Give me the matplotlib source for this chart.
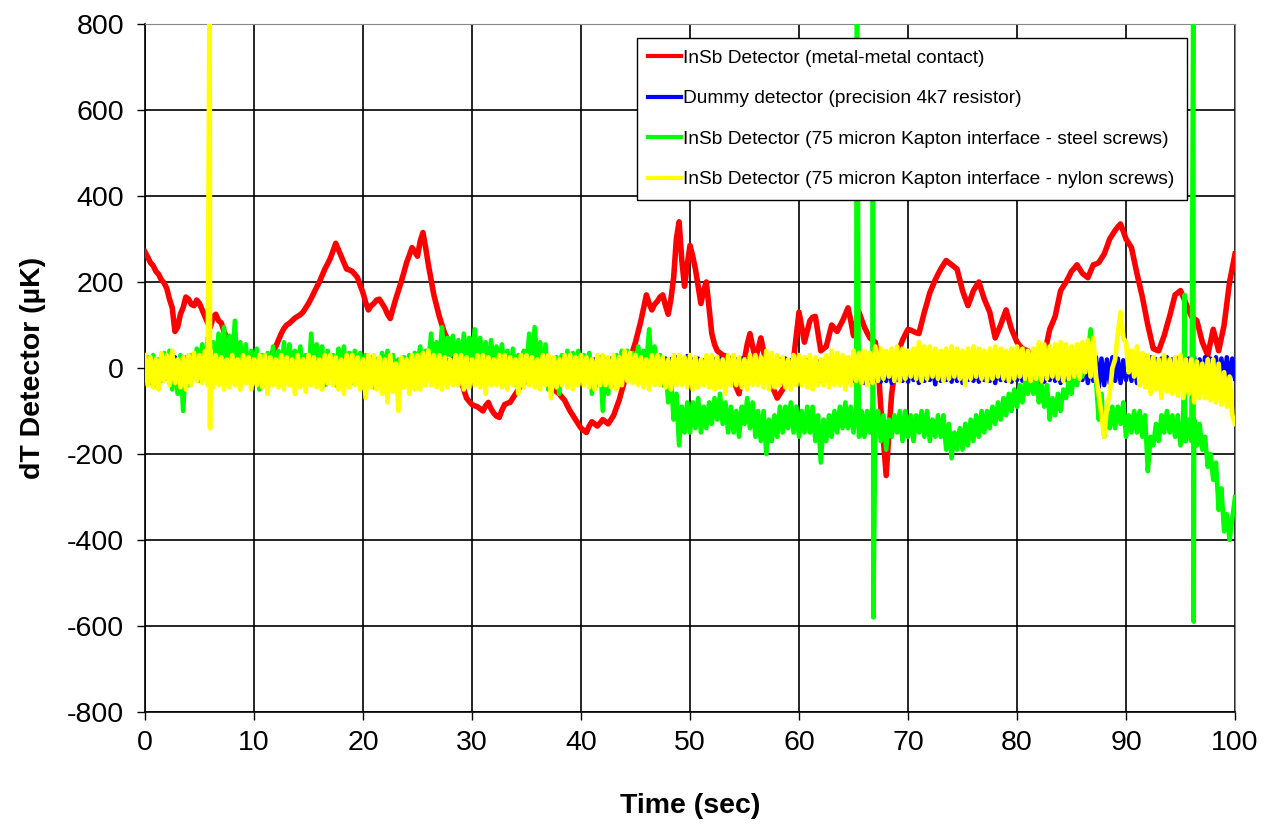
import numpy as np
import matplotlib
matplotlib.use("Agg")
import matplotlib.pyplot as plt

plt.rcParams['font.family'] = ['Liberation Sans', 'DejaVu Sans']

# ---------------- data (0.25 s sampling, 0..100 s) ----------------
sample_step = 0.25

red_vals = [
    270, 258, 245, 238, 225, 218, 205, 198, 185, 160, 140, 85, 95, 125, 140, 165, 160, 148, 145, 158,
    150, 135, 120, 105, 95, 118, 125, 110, 105, 85, 70, 60, 55, 42, 35, 28, 25, 18, 15, 12,
    10, 7, 5, 8, 10, 18, 25, 38, 50, 65, 80, 92, 100, 104, 110, 116, 120, 124, 130, 140,
    150, 162, 175, 188, 200, 215, 230, 242, 255, 272, 290, 275, 260, 245, 230, 228, 225, 218, 210, 192,
    175, 152, 135, 145, 150, 158, 160, 150, 140, 125, 115, 138, 160, 180, 200, 222, 245, 262, 280, 270,
    260, 295, 315, 280, 240, 205, 170, 145, 120, 100, 80, 68, 55, 38, 20, -5, -30, -50, -70, -78,
    -85, -88, -90, -95, -100, -88, -80, -95, -105, -112, -115, -98, -85, -82, -80, -70, -60, -50, -40, -35,
    -30, -25, -20, -18, -15, -18, -20, -28, -35, -42, -50, -55, -60, -68, -75, -88, -100, -110, -120, -130,
    -140, -145, -150, -135, -125, -130, -135, -128, -120, -125, -130, -120, -110, -92, -75, -52, -30, -5, 20, 40,
    60, 85, 110, 140, 170, 150, 135, 148, 155, 165, 170, 145, 125, 160, 210, 300, 340, 250, 190, 240,
    285, 260, 230, 190, 150, 180, 200, 140, 80, 55, 40, 35, 30, 28, 25, 0, -30, -45, -60, -20,
    20, 55, 80, 50, 20, 45, 70, 40, 10, -15, -40, -55, -70, -60, -50, -35, -20, 0, 20, 75,
    130, 95, 60, 85, 110, 118, 120, 80, 40, 45, 50, 75, 100, 92, 85, 98, 110, 125, 140, 110,
    75, 105, 130, 112, 95, 82, 70, 65, 60, 10, -90, -170, -250, -150, -60, -15, 30, 48, 65, 78,
    90, 88, 85, 82, 80, 105, 130, 152, 175, 190, 205, 218, 230, 240, 250, 245, 240, 235, 230, 205,
    180, 162, 145, 162, 180, 190, 200, 180, 160, 145, 130, 100, 70, 85, 100, 118, 135, 112, 90, 75,
    60, 52, 45, 42, 40, 0, -40, -35, -30, 0, 30, 60, 90, 105, 120, 150, 180, 190, 200, 212,
    225, 232, 240, 230, 220, 215, 210, 225, 240, 242, 245, 255, 265, 282, 300, 310, 320, 328, 335, 318,
    300, 290, 280, 250, 220, 192, 165, 132, 100, 72, 45, 42, 40, 58, 75, 98, 120, 145, 170, 175,
    180, 165, 150, 135, 120, 115, 110, 85, 60, 45, 30, 60, 90, 65, 40, 70, 100, 150, 200, 232,
    265]

blue_vals = [
    0, 18, -15, 20, -18, 15, -20, 22, -15, 18, -20, 25, -18, 15, -22, 20, -15, 18, -20, 22,
    -18, 20, -15, 18, -22, 15, -20, 22, -18, 20, -15, 18, -20, 25, -18, 15, -22, 18, -15, 20,
    -20, 22, -18, 15, -20, 18, -22, 20, -15, 18, -20, 22, -18, 15, -20, 20, -15, 22, -18, 18,
    -22, 20, -15, 18, -20, 22, -18, 15, -20, 18, -15, 22, -20, 18, -22, 15, -18, 20, -15, 22,
    -18, 18, -20, 22, -15, 20, -22, 18, -18, 15, -20, 22, -15, 18, -20, 20, -18, 15, -22, 18,
    -15, 20, -18, 22, -20, 18, -15, 15, -22, 20, -18, 18, -20, 22, -15, 20, -18, 18, -22, 15,
    -20, 22, -15, 18, -18, 20, -22, 15, -20, 18, -15, 22, -18, 20, -20, 15, -22, 18, -15, 20,
    -18, 22, -20, 18, -15, 20, -22, 15, -18, 18, -20, 22, -15, 20, -18, 15, -22, 18, -20, 20,
    -15, 22, -18, 18, -20, 20, -22, 15, -18, 18, -15, 22, -20, 20, -18, 15, -22, 18, -15, 20,
    -20, 22, -18, 18, -15, 20, -22, 15, -18, 18, -20, 22, -15, 20, -18, 25, -22, 18, -20, 28,
    -18, 20, -15, 22, -20, 18, -22, 15, -18, 20, -15, 22, -20, 18, -22, 15, -18, 20, -15, 22,
    -20, 18, -22, 15, -18, 20, -15, 22, -20, 18, -22, 15, -18, 20, -15, 22, -25, 18, -22, 15,
    -25, 15, -22, 18, -28, 12, -25, 15, -30, 12, -25, 15, -28, 12, -25, 15, -30, 10, -28, 12,
    -30, 10, -28, 12, -35, 10, -30, 12, -28, 10, -32, 12, -30, 10, -35, 12, -28, 10, -30, 12,
    -32, 10, -28, 12, -35, 10, -30, 12, -28, 10, -38, 12, -30, 10, -28, 12, -32, 10, -30, 12,
    -35, 10, -28, 12, -30, 10, -32, 12, -28, 10, -30, 12, -35, 10, -28, 12, -30, 10, -32, 12,
    -28, 10, -30, 12, -35, 10, -28, 12, -30, 10, -32, 12, -28, 10, -30, 12, -35, 10, -28, 12,
    -30, 10, -32, 12, -28, 15, -35, 20, -30, 25, -45, 22, -40, 20, -35, 25, -30, 22, -35, 18,
    -28, 22, -30, 25, -35, 20, -28, 22, -30, 25, -32, 20, -28, 22, -35, 25, -30, 20, -28, 22,
    -30, 25, -35, 22, -28, 25, -30, 20, -35, 25, -28, 22, -30, 25, -35, 22, -30, 25, -28, 22,
    -25]

green_vals = [
    -20, 25, -35, 30, -40, 20, -30, 35, -25, 40, -50, 15, -60, 30, -100, 25, -40, 30, -20, 45,
    -30, 55, -25, 70, -30, 60, -10, 80, 0, 95, -10, 75, 10, 110, -20, 60, -15, 55, -30, 40,
    -20, 45, -50, 30, -40, 35, -15, 50, -25, 40, -20, 60, -30, 55, 0, 40, -20, 50, -35, 30,
    -30, 80, -10, 55, 10, 50, -40, 40, -20, 30, -40, 45, -10, 50, -30, 35, -35, 40, -20, 35,
    -20, 30, -40, 25, -45, 20, -30, 35, -10, 40, -30, 30, -40, 20, -25, 25, -10, 30, -20, 35,
    0, 50, -10, 40, 10, 80, -5, 60, 20, 95, 10, 70, 30, 75, 0, 65, -10, 80, 10, 70,
    20, 90, 0, 70, 10, 60, -10, 65, 0, 50, -10, 55, -20, 40, -30, 45, -40, 30, -30, 40,
    0, 80, -10, 95, 10, 60, -20, 55, -50, 20, -40, 25, -60, 30, -30, 40, -20, 35, -10, 40,
    -30, 30, -20, 35, -60, 10, -40, 25, -100, 20, -60, 15, -40, 30, -20, 40, 0, 40, -20, 35,
    -10, 50, -5, 40, 10, 90, -10, 50, 0, 30, -40, 10, -80, -20, -120, -60, -180, -90, -150, -80,
    -150, -80, -140, -70, -150, -90, -140, -80, -130, -70, -120, -60, -130, -80, -150, -90, -150, -100, -160, -90,
    -130, -70, -140, -80, -160, -100, -170, -100, -200, -120, -170, -110, -160, -90, -150, -90, -140, -80, -150, -90,
    -160, -100, -150, -90, -150, -90, -170, -110, -220, -120, -170, -110, -160, -100, -150, -90, -140, -80, -140, -90,
    -150, -100, -160, -100, -160, -100, -150, -90, -140, -100, -170, -110, -190, -120, -160, -110, -150, -100, -170, -100,
    -160, -110, -170, -110, -150, -100, -160, -100, -170, -120, -160, -110, -160, -110, -190, -130, -210, -150, -190, -140,
    -190, -130, -180, -120, -170, -110, -160, -100, -150, -100, -140, -90, -130, -80, -120, -70, -110, -60, -100, -50,
    -90, -40, -80, -30, -60, -20, -60, -10, -80, -40, -90, -40, -120, -70, -110, -60, -100, -50, -70, -30,
    -60, -10, -40, 0, -20, 40, 30, 90, 10, -30, -120, -60, -160, -100, -140, -90, -140, -90, -130, -80,
    -160, -110, -150, -100, -150, -100, -160, -110, -240, -160, -180, -130, -170, -110, -150, -100, -150, -110, -160, -110,
    -180, -120, -170, -120, -170, -120, -180, -130, -190, -160, -230, -200, -260, -220, -330, -280, -380, -340, -400, -350,
    -300]

yellow_vals = [
    30, -40, 25, -45, 20, -50, 35, -30, 30, -40, 40, -35, 20, -45, 25, -50, 30, -40, 35, -30,
    30, -35, 40, -40, 40, -45, 30, -40, 25, -50, 20, -45, 30, -40, 20, -50, 30, -35, 25, -50,
    20, -40, 30, -45, 30, -60, 25, -40, 20, -45, 30, -50, 25, -40, 20, -60, 30, -45, 20, -55,
    30, -40, 25, -45, 20, -50, 30, -35, 30, -40, 25, -50, 20, -60, 30, -45, 30, -40, 25, -50,
    20, -70, 30, -45, 30, -50, 25, -60, 20, -80, 30, -55, 10, -100, 25, -45, 20, -60, 30, -50,
    30, -50, 35, -40, 40, -40, 30, -45, 30, -50, 25, -45, 20, -40, 30, -40, 30, -50, 25, -45,
    20, -40, 30, -45, 30, -60, 25, -40, 20, -40, 30, -45, 30, -50, 25, -40, 20, -60, 30, -45,
    30, -40, 25, -45, 20, -50, 30, -40, 30, -70, 25, -45, 20, -40, 30, -45, 30, -50, 25, -40,
    30, -40, 25, -45, 20, -50, 30, -40, 30, -40, 25, -45, 30, -50, 25, -40, 40, -30, 35, -35,
    30, -40, 25, -45, 20, -50, 30, -40, 30, -40, 25, -45, 20, -50, 30, -40, 30, -40, 25, -45,
    30, -50, 25, -45, 20, -40, 30, -45, 30, -50, 25, -45, 20, -60, 30, -40, 30, -40, 25, -45,
    20, -50, 30, -40, 30, -40, 25, -45, 40, -50, 35, -45, 30, -40, 25, -45, 20, -50, 30, -40,
    30, -40, 25, -45, 30, -50, 25, -40, 20, -40, 30, -45, 40, -40, 35, -40, 30, -50, 25, -40,
    40, -30, 35, -35, 40, -40, 35, -35, 50, -30, 45, -25, 40, -20, 45, -30, 50, -30, 45, -25,
    40, -20, 45, -25, 60, -30, 50, -25, 50, -20, 45, -25, 40, -30, 45, -25, 50, -20, 45, -25,
    40, -40, 45, -25, 50, -20, 45, -25, 40, -30, 45, -25, 50, -20, 45, -25, 40, -30, 45, -25,
    50, -20, 45, -25, 40, -30, 45, -25, 60, -30, 55, -25, 50, -20, 55, -25, 60, -30, 55, -25,
    50, -20, 55, -25, 60, -10, 65, -20, 70, -20, -60, -110, -160, -90, -60, 0, 20, 80, 130, 70,
    60, -10, 40, -20, 50, -40, 35, -45, 30, -60, 25, -50, 20, -70, 30, -55, 20, -60, 25, -65,
    30, -70, 20, -60, 20, -80, 15, -70, 10, -70, 20, -75, 20, -80, 10, -85, -10, -90, -20, -110,
    -130]

# isolated spikes (time, value)
green_spike_t = [65.30, 65.33, 66.78, 66.82, 95.38, 95.42, 96.17, 96.21]
green_spike_v = [900, 900, 700, -580, 170, -170, 900, -590]
yellow_spike_t = [5.93, 5.97]
yellow_spike_v = [900, -140]

series_labels = ["InSb Detector (metal-metal contact)",
                 "Dummy detector (precision 4k7 resistor)",
                 "InSb Detector (75 micron Kapton interface - steel screws)",
                 "InSb Detector (75 micron Kapton interface - nylon screws)"]
series_colors = ["#FF0000", "#0000FF", "#00FF00", "#FFFF00"]

x_ticks = [0, 10, 20, 30, 40, 50, 60, 70, 80, 90, 100]
y_ticks = [-800, -600, -400, -200, 0, 200, 400, 600, 800]


def times_for(vals):
    return np.arange(len(vals)) * sample_step


def merge(v_base, t_extra, v_extra):
    t = np.concatenate([times_for(v_base), np.asarray(t_extra, float)])
    v = np.concatenate([np.asarray(v_base, float), np.asarray(v_extra, float)])
    order = np.argsort(t, kind="stable")
    return t[order], v[order]


fig = plt.figure(figsize=(12.65, 8.25), dpi=100)
ax = fig.add_axes([0.1146, 0.137, 0.8617, 0.8339])

t_g, v_g = merge(green_vals, green_spike_t, green_spike_v)
t_y, v_y = merge(yellow_vals, yellow_spike_t, yellow_spike_v)

ax.plot(times_for(red_vals), red_vals, color=series_colors[0], lw=4.0,
        label=series_labels[0], zorder=3)
ax.plot(times_for(blue_vals), blue_vals, color=series_colors[1], lw=3.2,
        label=series_labels[1], zorder=4)
ax.plot(t_g, v_g, color=series_colors[2], lw=3.3, label=series_labels[2], zorder=5)
ax.plot(t_y, v_y, color=series_colors[3], lw=3.4, label=series_labels[3], zorder=6)

ax.set_xlim(0, 100)
ax.set_ylim(-800, 800)
ax.set_xticks(x_ticks)
ax.set_yticks(y_ticks)
ax.set_xticklabels([str(v) for v in x_ticks], fontsize=20.5)
ax.set_yticklabels([str(v) for v in y_ticks], fontsize=20.5)
ax.tick_params(direction='out', length=6, width=1, colors='black')
ax.tick_params(axis='y', pad=9)
ax.tick_params(axis='x', pad=7)
ax.grid(True, color='black', lw=1.2, zorder=1)
ax.set_axisbelow(True)
for s in ['top', 'right']:
    ax.spines[s].set_color('#888888')
for s in ['left', 'bottom']:
    ax.spines[s].set_color('black')
    ax.spines[s].set_linewidth(1.2)

ax.set_xlabel("Time (sec)", fontsize=20.5, fontweight='bold')
ax.set_ylabel("dT Detector (\u00b5K)", fontsize=20.5, fontweight='bold')
ax.xaxis.set_label_coords(0.5, -0.118)
ax.yaxis.set_label_coords(-0.091, 0.5)

leg = ax.legend(loc='upper left', bbox_to_anchor=(0.451, 0.98), fontsize=13.8,
                frameon=True, fancybox=False, edgecolor='black', framealpha=1,
                handlelength=1.72, handletextpad=0.1, labelspacing=1.2,
                borderpad=0.62, borderaxespad=0)
leg.get_frame().set_linewidth(1.0)
leg.set_zorder(10)
for h in leg.get_lines():
    h.set_linewidth(3)

fig.savefig("out.png", dpi=100)
